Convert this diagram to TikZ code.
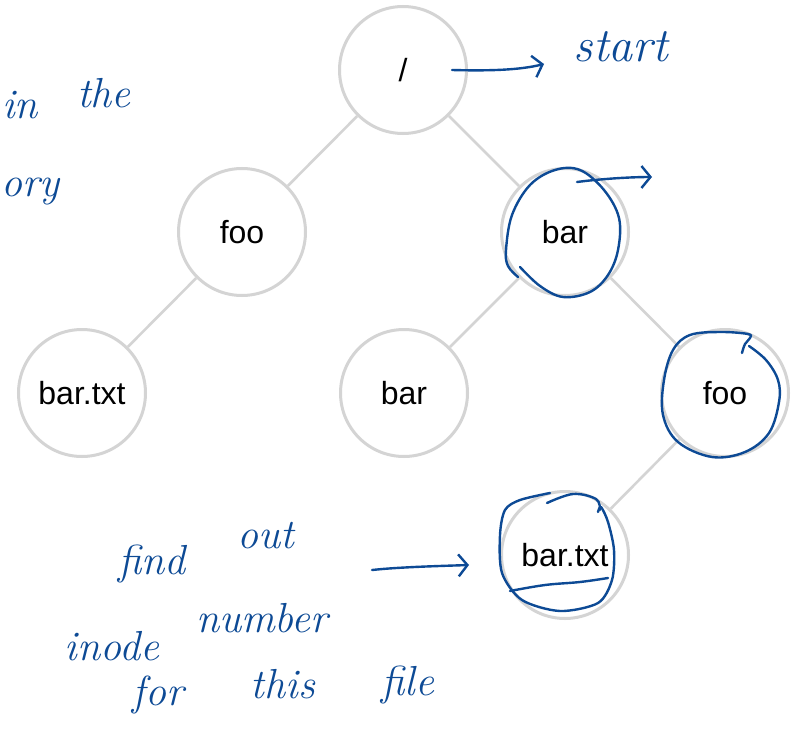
\documentclass[tikz,border=0pt]{standalone}
\usepackage{fontspec}
\newfontfamily\nodefont{Liberation Sans}
\usetikzlibrary{arrows.meta}
\definecolor{ringgray}{HTML}{D4D4D4}
\definecolor{inkblue}{HTML}{0D4A95}
\tikzset{
  dirnode/.style={circle, draw=ringgray, line width=3pt, fill=white,
    minimum size=127pt, inner sep=0pt,
    font=\nodefont\fontsize{32}{32}\selectfont},
  treeedge/.style={draw=ringgray, line width=2.6pt},
  ink/.style={draw=inkblue, line width=2.4pt, line cap=round, line join=round},
  inkarrow/.style={ink, -{Straight Barb[length=9pt,width=22pt,line width=2.4pt]}},
  hand/.style={text=inkblue, anchor=base, inner sep=0pt,
    font=\itshape\fontsize{42}{42}\selectfont},
}
\begin{document}
\begin{tikzpicture}[x=1pt,y=-1pt]
  \useasboundingbox (0,0) rectangle (792,741);

  % directory tree
  \node[dirnode] (root) at (403,70) {/};
  \node[dirnode] (foo) at (242,232) {foo};
  \node[dirnode] (bar) at (565,232) {bar};
  \node[dirnode] (bartxtA) at (82,393) {bar.txt};
  \node[dirnode] (barB) at (404,393) {bar};
  \node[dirnode] (fooB) at (725,393) {foo};
  \node[dirnode] (bartxtB) at (565,555) {bar.txt};

  \draw[treeedge] (root) -- (foo);
  \draw[treeedge] (root) -- (bar);
  \draw[treeedge] (foo) -- (bartxtA);
  \draw[treeedge] (bar) -- (barB);
  \draw[treeedge] (bar) -- (fooB);
  \draw[treeedge] (fooB) -- (bartxtB);

  % handwritten notes
  \node[hand] (wIn) at (20,119) {in};
  \node[hand] (wThe) at (104,108) {the};
  \node[hand, anchor=base west] (wOry) at (1,196) {ory};
  \node[hand, font=\itshape\fontsize{48}{48}\selectfont] (wStart) at (621,62) {start};

  \node[hand] (wFind) at (152,574) {find};
  \node[hand] (wOut) at (266,548) {out};
  \node[hand] (wInode) at (112,660) {inode};
  \node[hand] (wNumber) at (262,632) {number};
  \node[hand] (wFor) at (158,705) {for};
  \node[hand] (wThis) at (283,698) {this};
  \node[hand] (wFile) at (408,695) {file};

  % handwritten arrows
  \coordinate (startTail) at (452,70);
  \coordinate (startHead) at (544,64);
  \draw[inkarrow] (startTail) .. controls (490,71) and (520,70) .. (startHead);

  \coordinate (barTail) at (577,182);
  \coordinate (barHead) at (652,177);
  \draw[inkarrow] (barTail) .. controls (600,179) and (630,177) .. (barHead);

  \coordinate (findTail) at (372,570);
  \coordinate (findHead) at (469,565);
  \draw[inkarrow] (findTail) .. controls (400,567) and (440,566) .. (findHead);

  % hand-drawn loops around the path components
  \draw[ink] plot[smooth, tension=0.6] coordinates {
    (520,267) (540,286) (563,297) (590,292) (608,275) (618,250) (619,218)
    (604,190) (580,170) (555,170) (530,185) (512,215) (506,250) (508,266) (518,277)};

  \draw[ink] plot[smooth, tension=0.6] coordinates {
    (742,353) (745,344) (750,338) (748,334) (720,332) (690,335) (673,350)
    (664,380) (663,415) (678,442) (712,457) (745,452) (769,433) (779,402)
    (778,380) (766,360) (749,346)};

  \draw[ink] plot[smooth, tension=0.6] coordinates {
    (547,503) (573,494) (596,499) (600,510)};
  \draw[ink] plot[smooth, tension=0.5] coordinates {
    (598,512) (601,507) (608,522) (614,550) (612,580) (598,603) (560,611)
    (522,600) (502,573) (500,535) (505,510) (520,500) (550,493)};
  \draw[ink] plot[smooth, tension=0.6] coordinates {
    (510,591) (545,585) (580,582) (608,578)};
\end{tikzpicture}
\end{document}
